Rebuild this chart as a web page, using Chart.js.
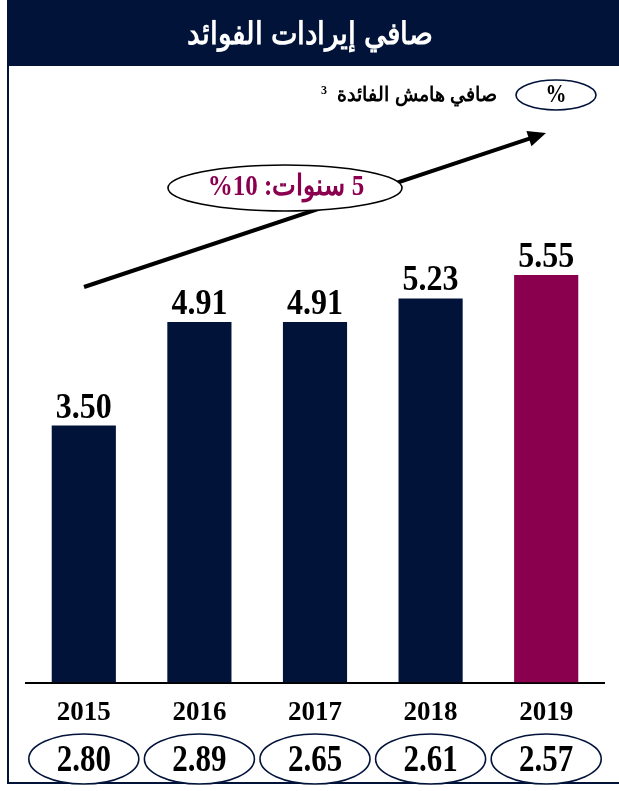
<!DOCTYPE html>
<html>
<head>
<meta charset="utf-8">
<script src="https://cdn.jsdelivr.net/npm/chart.js@4"></script>
<style>
  html, body { margin: 0; padding: 0; background: #fff; }
  #wrap { width: 619px; height: 791px; position: relative; }
</style>
</head>
<body>
<div id="wrap"><canvas id="graf"></canvas></div>
<script>
// data
var years = ["2015", "2016", "2017", "2018", "2019"];
var netInterest = [3.50, 4.91, 4.91, 5.23, 5.55];   // bars
var margin = [2.80, 2.89, 2.65, 2.61, 2.57];        // ovals under the years
var barColors = ["#02133a", "#02133a", "#02133a", "#02133a", "#8a004f"];

var NAVY = "#02133a";
var SERIF = '"Liberation Serif", "Times New Roman", serif';
var SANS = '"Liberation Sans", Arial, sans-serif';

function oval(ctx, cx, cy, rx, ry, col) {
  ctx.beginPath();
  ctx.ellipse(cx, cy, rx, ry, 0, 0, Math.PI * 2);
  ctx.fillStyle = "#fff";
  ctx.fill();
  ctx.lineWidth = 1.6;
  ctx.strokeStyle = col || NAVY;
  ctx.stroke();
}

// text a bit taller than wide, like the original
function tallText(ctx, txt, x, y, sy) {
  ctx.save();
  ctx.translate(x, y);
  ctx.scale(1, sy);
  ctx.fillText(txt, 0, 0);
  ctx.restore();
}

// draws frame, title, legend, arrow and the margin ovals
var decor = {
  id: "decor",
  beforeDraw: function (chart) {
    var ctx = chart.ctx;
    ctx.save();
    ctx.fillStyle = "#fff";
    ctx.fillRect(0, 0, chart.width, chart.height);
    // frame
    ctx.strokeStyle = NAVY;
    ctx.lineWidth = 2;
    ctx.strokeRect(8, 1, 620, 782);
    // title bar
    ctx.fillStyle = NAVY;
    ctx.fillRect(7, 0, 612, 66);
    ctx.fillStyle = "#fff";
    ctx.font = "bold 28px " + SANS;
    ctx.textAlign = "center";
    ctx.textBaseline = "middle";
    ctx.direction = "rtl";
    tallText(ctx, "صافي إيرادات الفوائد", 310, 36, 1.1);
    // legend
    oval(ctx, 556, 95, 40, 15);
    ctx.direction = "ltr";
    ctx.fillStyle = "#000";
    ctx.font = "bold 21px " + SERIF;
    tallText(ctx, "%", 556, 96, 1.15);
    ctx.textAlign = "right";
    ctx.font = "bold 12px " + SERIF;
    ctx.fillText("3", 327, 91);
    ctx.direction = "rtl";
    ctx.font = "bold 19px " + SANS;
    tallText(ctx, "صافي هامش الفائدة", 497, 96, 1.05);
    ctx.restore();
  },
  afterDatasetsDraw: function (chart) {
    var ctx = chart.ctx;
    var x = chart.scales.x;
    ctx.save();
    // arrow
    var x0 = 84, y0 = 287, x1 = 546, y1 = 133;
    var ang = Math.atan2(y1 - y0, x1 - x0);
    ctx.strokeStyle = "#000";
    ctx.lineWidth = 4;
    ctx.beginPath();
    ctx.moveTo(x0, y0);
    ctx.lineTo(x1 - 12 * Math.cos(ang), y1 - 12 * Math.sin(ang));
    ctx.stroke();
    ctx.fillStyle = "#000";
    ctx.beginPath();
    ctx.moveTo(x1, y1);
    ctx.lineTo(x1 - 18 * Math.cos(ang) + 8 * Math.sin(ang), y1 - 18 * Math.sin(ang) - 8 * Math.cos(ang));
    ctx.lineTo(x1 - 18 * Math.cos(ang) - 8 * Math.sin(ang), y1 - 18 * Math.sin(ang) + 8 * Math.cos(ang));
    ctx.closePath();
    ctx.fill();
    // growth oval
    oval(ctx, 285, 188, 117, 23, "#000");
    ctx.fillStyle = "#8a004f";
    ctx.font = "bold 25px " + SERIF;
    ctx.textAlign = "center";
    ctx.textBaseline = "middle";
    ctx.direction = "rtl";
    tallText(ctx, "5 سنوات: 10%", 286, 188, 1.15);
    ctx.direction = "ltr";
    // margin ovals
    ctx.font = "bold 31px " + SERIF;
    margin.forEach(function (m, i) {
      var cx = x.getPixelForValue(i);
      oval(ctx, cx, 759, 55, 25);
      ctx.fillStyle = "#000";
      tallText(ctx, m.toFixed(2), cx, 761, 1.2);
    });
    // value labels over bars
    var meta = chart.getDatasetMeta(0);
    ctx.font = "bold 32px " + SERIF;
    ctx.textBaseline = "alphabetic";
    meta.data.forEach(function (bar, i) {
      tallText(ctx, netInterest[i].toFixed(2), bar.x, bar.y - 8, 1.15);
    });
    ctx.restore();
  }
};

new Chart(document.getElementById("graf"), {
  type: "bar",
  data: {
    labels: years,
    datasets: [{
      data: netInterest,
      backgroundColor: barColors,
      categoryPercentage: 1,
      barPercentage: 0.555
    }]
  },
  options: {
    responsive: true,
    maintainAspectRatio: false,
    animation: false,
    layout: { padding: { left: 26, right: 15, top: 95, bottom: 48 } },
    plugins: { legend: { display: false }, tooltip: { enabled: false } },
    scales: {
      y: { display: false, min: 0, max: 8 },
      x: {
        grid: { display: false, drawTicks: false },
        border: { display: true, color: "#000", width: 2 },
        ticks: { color: "#000", padding: 14, font: { family: SERIF, size: 27, weight: "bold" } }
      }
    }
  },
  plugins: [decor]
});
</script>
</body>
</html>
